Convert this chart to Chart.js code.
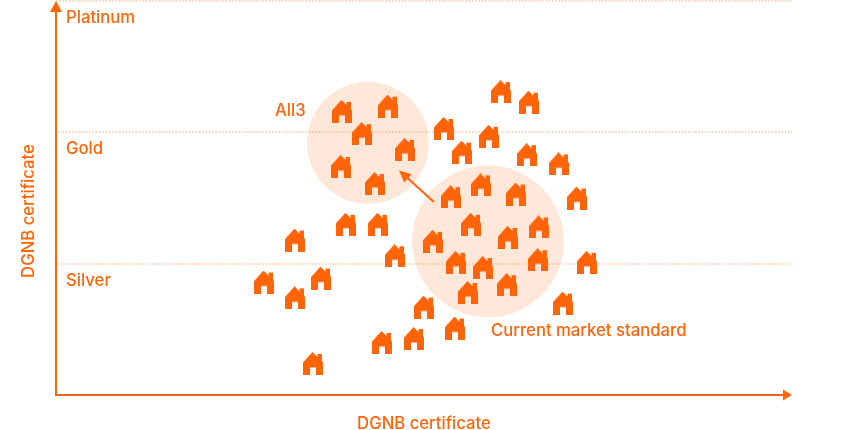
<!DOCTYPE html>
<html><head><meta charset="utf-8">
<script src="https://cdn.jsdelivr.net/npm/chart.js@4"></script>
<style>html,body{margin:0;padding:0;background:#fff}#w{width:848px;height:430px}</style>
</head><body><div id="w"><canvas id="c"></canvas></div>
<script>
const levelLabels = ['', 'Silver', 'Gold', 'Platinum'];
const axisTitle = 'DGNB certificate';
const houseX = [286,332,306,349,285,319,445,473,388,433,406,471,503,521,395,425,460,415,452,483,377,400,427,482,531,412,451,507,290,322,239,339,265,208,239,368,399,358,326,257];
const houseY = [216,220,199,187,174,161,231,223,203,197,185,183,176,150,151,160,153,130,120,128,117,101,97,103,101,78,84,70,130,130,118,106,89,86,74,67,51,43,40,24];
const circleX = [312,432];
const circleY = [192,117];
const circleSize = [61,76];
const noteText = ['All3','Current market standard'];
const noteX = [219,435];
const noteY = [216,49];
const arrowFrom = [378,147];
const arrowTo = [343,171];

const ORANGE='#ff6508', FONT='Inter, "Noto Sans", sans-serif', FS=16.7;
function houseIcon(){
  const c=document.createElement('canvas');c.width=20;c.height=23;
  const g=c.getContext('2d');g.fillStyle=ORANGE;g.beginPath();
  g.moveTo(9.5,0);g.lineTo(14.5,5);g.lineTo(14.5,2);g.lineTo(19,2);g.lineTo(19,9);g.lineTo(20,10.5);
  g.lineTo(20,23);g.lineTo(13,23);g.lineTo(13,15.5);g.lineTo(7,15.5);g.lineTo(7,23);g.lineTo(0,23);g.lineTo(0,10.5);
  g.closePath();g.fill();return c;
}
function head(g,x,y,ang,len,w){
  g.save();g.translate(x,y);g.rotate(ang);g.beginPath();g.moveTo(0,0);g.lineTo(-len,-w/2);g.lineTo(-len,w/2);g.closePath();g.fill();g.restore();
}
const overlay={id:'overlay',
  beforeDatasetsDraw(ch){
    const g=ch.ctx,a=ch.chartArea;g.save();
    g.strokeStyle=ORANGE;g.fillStyle=ORANGE;g.lineWidth=2;
    g.beginPath();g.moveTo(a.left,a.bottom+1);g.lineTo(a.left,a.top+8);g.stroke();
    head(g,a.left,a.top,-Math.PI/2,11,12);
    g.strokeStyle='#e5641f';
    g.beginPath();g.moveTo(a.left-1,a.bottom);g.lineTo(a.right-8,a.bottom);g.stroke();
    head(g,a.right,a.bottom,0,9,11);
    g.restore();
  },
  afterDatasetsDraw(ch){
    const g=ch.ctx,X=ch.scales.x,Y=ch.scales.y;g.save();
    g.fillStyle=ORANGE;g.strokeStyle=ORANGE;g.font='500 '+FS+'px '+FONT;g.textBaseline='middle';g.textAlign='left';
    noteText.forEach((t,i)=>g.fillText(t,X.getPixelForValue(noteX[i]),Y.getPixelForValue(noteY[i])));
    g.save();g.translate(X.left-27,Y.bottom-184);g.rotate(-Math.PI/2);g.textAlign='center';g.fillText(axisTitle,0,0);g.restore();
    const x0=X.getPixelForValue(arrowFrom[0]),y0=Y.getPixelForValue(arrowFrom[1]),x1=X.getPixelForValue(arrowTo[0]),y1=Y.getPixelForValue(arrowTo[1]);
    const ang=Math.atan2(y1-y0,x1-x0);
    g.lineWidth=2;g.beginPath();g.moveTo(x0,y0);g.lineTo(x1-8*Math.cos(ang),y1-8*Math.sin(ang));g.stroke();
    head(g,x1,y1,ang,12,11);
    g.restore();
  }
};
new Chart(document.getElementById('c'),{
  data:{datasets:[
    {type:'scatter',order:1,data:houseX.map((x,i)=>({x,y:houseY[i]})),pointStyle:houseIcon(),pointRadius:10,pointHoverRadius:10},
    {type:'bubble',order:2,data:circleX.map((x,i)=>({x,y:circleY[i],r:circleSize[i]})),backgroundColor:'rgba(255,101,8,0.15)',borderWidth:0,hoverBorderWidth:0}
  ]},
  options:{responsive:true,maintainAspectRatio:false,animation:false,events:[],
    layout:{autoPadding:false,padding:{top:1,right:56,left:0,bottom:0}},
    plugins:{legend:{display:false},tooltip:{enabled:false}},
    scales:{
      x:{type:'linear',min:0,max:736,
        afterFit(s){s.height=35;},
        grid:{display:false},border:{display:false},ticks:{display:false},
        title:{display:true,text:axisTitle,color:ORANGE,font:{family:FONT,size:FS,weight:'500'},padding:{top:22,bottom:-4}}},
      y:{type:'linear',min:0,max:300,
        afterFit(s){s.width=56;s.paddingTop=0;s.paddingBottom=0;},
        afterBuildTicks(s){s.ticks=[0,100,200,300].map(v=>({value:v}));},
        grid:{drawTicks:false,lineWidth:2,color:c=>c.tick&&c.tick.value===0?'rgba(0,0,0,0)':'#ffd3b8'},
        border:{display:false,dash:[1.5,1.83],dashOffset:-3},
        ticks:{mirror:true,padding:10,labelOffset:17,autoSkip:false,color:ORANGE,font:{family:FONT,size:FS,weight:'500'},
          callback:v=>levelLabels[v/100]},
        title:{display:false}}
    }
  },
  plugins:[overlay]
});
</script></body></html>
